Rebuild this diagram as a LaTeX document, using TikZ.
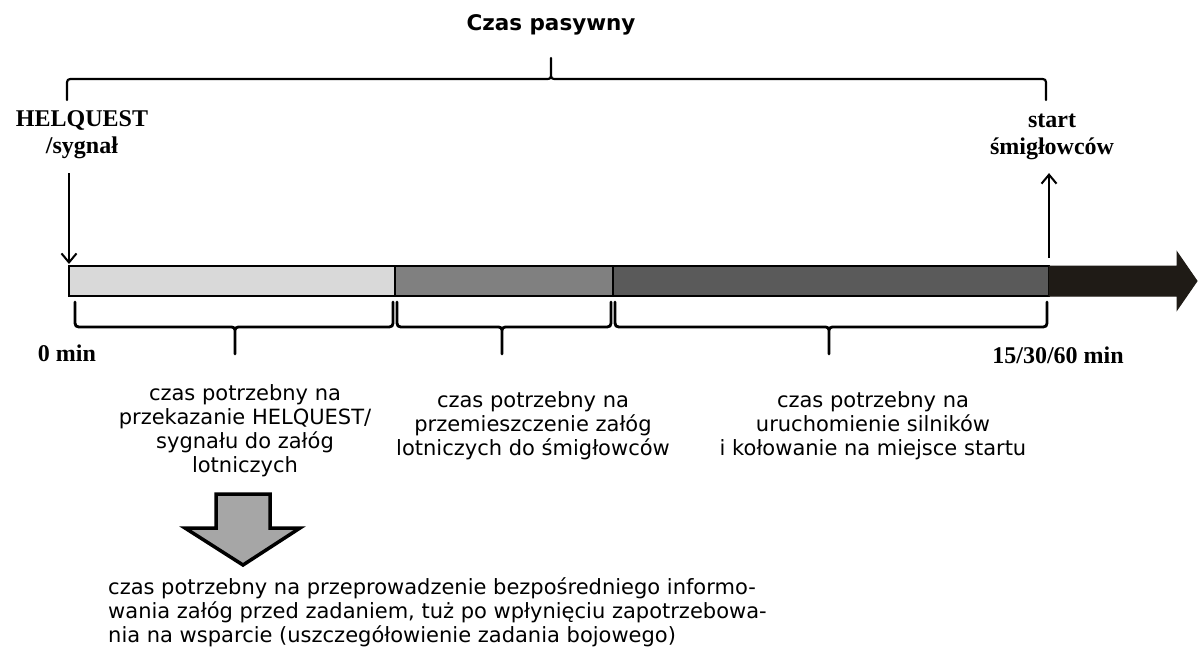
\documentclass[tikz,border=0pt]{standalone}
\usepackage{fontspec}
\setmainfont{DejaVu Sans}
\newfontfamily\serifbold{Liberation Serif}
\usetikzlibrary{arrows.meta,positioning,calc}

\definecolor{barlight}{HTML}{D9D9D9}
\definecolor{barmid}{HTML}{808080}
\definecolor{bardark}{HTML}{5A5A5A}
\definecolor{flowdark}{HTML}{1F1B16}
\definecolor{hintgray}{HTML}{A6A6A6}

% brace below the bar: left x, tip x, right x
\newcommand{\lowbrace}[3]{%
  \draw[brace] (#1,302) -- (#1,319) .. controls (#1,327) .. (#1+8,327) -- (#2-7,327) .. controls (#2,327) .. (#2,334) -- (#2,354)
    (#2,334) .. controls (#2,327) .. (#2+7,327) -- (#3-8,327) .. controls (#3,327) .. (#3,319) -- (#3,302);
}

\begin{document}
\begin{tikzpicture}[x=1pt, y=-1pt]

\useasboundingbox (0,0) rectangle (1198,653);

% Define styles
\tikzstyle{segment} = [rectangle, draw=black, line width=1.5pt, minimum height=30pt, inner sep=0pt, outer sep=0pt]
\tikzstyle{marker} = [font=\serifbold\bfseries\fontsize{24}{27}\selectfont, align=center, inner sep=0pt]
\tikzstyle{note} = [font=\fontsize{21}{24}\selectfont, align=center, inner sep=0pt]
\tikzstyle{arrow} = [line width=2pt, -{Straight Barb[length=9pt,width=15pt]}]
\tikzstyle{brace} = [line width=2.8pt, line cap=round, line join=round]
\tikzstyle{flow} = [draw=flowdark, fill=flowdark, line width=1pt]
\tikzstyle{hint} = [draw=black, fill=hintgray, line width=3.5pt, miter limit=4]

% Title and top brace
\node (title) [font=\bfseries\fontsize{21.5}{24}\selectfont] at (551,25) {Czas pasywny};
\draw[brace, line width=2.2pt] (67,100) -- (67,86) .. controls (67,79) .. (74,79) -- (545,79) .. controls (551,79) .. (551,72) -- (551,58)
  (551,72) .. controls (551,79) .. (557,79) -- (1039,79) .. controls (1046,79) .. (1046,86) -- (1046,100);

% Time bar
\node (seg_a) [segment, fill=barlight, minimum width=326pt, anchor=west] at (69,281) {};
\node (seg_b) [segment, fill=barmid, minimum width=218pt, right=0pt of seg_a] {};
\node (seg_c) [segment, fill=bardark, minimum width=436pt, right=0pt of seg_b] {};
\draw[flow] (seg_c.north east) -- ++(128,0) -- ++(0,-14) -- ($(seg_c.east)+(148,0)$)
  -- ($(seg_c.south east)+(128,14)$) -- ($(seg_c.south east)+(128,0)$) -- (seg_c.south east) -- cycle;

% Start and end markers
\node (helquest) [marker] at (82,135) {HELQUEST\\/sygnał};
\node (start) [marker] at (1052,137) {start\\śmigłowców};
\draw[arrow, shorten <=14pt, shorten >=2pt] (helquest.south -| seg_a.north west) -- (seg_a.north west);
\draw[arrow, shorten <=8pt, shorten >=13pt] (seg_c.north east) -- (start.south -| seg_c.north east);

\node (t_zero) [marker] at (67,353) {0 min};
\node (t_end) [marker] at (1058,355) {15/30/60 min};

% Braces under the bar
\lowbrace{75}{235}{393}
\lowbrace{397}{502}{611}
\lowbrace{615}{829}{1047}

% Phase descriptions
\node (note_a) [note] at (245,431) {czas potrzebny na\\przekazanie HELQUEST/\\sygnału do załóg\\lotniczych};
\node (note_b) [note] at (533,426) {czas potrzebny na\\przemieszczenie załóg\\lotniczych do śmigłowców};
\node (note_c) [note] at (873,426) {czas potrzebny na\\uruchomienie silników\\i kołowanie na miejsce startu};

% Briefing arrow and text
\draw[hint] (216,494) -- (270,494) -- (270,528) -- (300,528) -- (243,565) -- (185,528) -- (216,528) -- cycle;
\node (briefing) [note, align=left, anchor=west] at (108,612) {czas potrzebny na przeprowadzenie bezpośredniego informo-\\wania załóg przed zadaniem, tuż po wpłynięciu zapotrzebowa-\\nia na wsparcie (uszczegółowienie zadania bojowego)};

\end{tikzpicture}
\end{document}
